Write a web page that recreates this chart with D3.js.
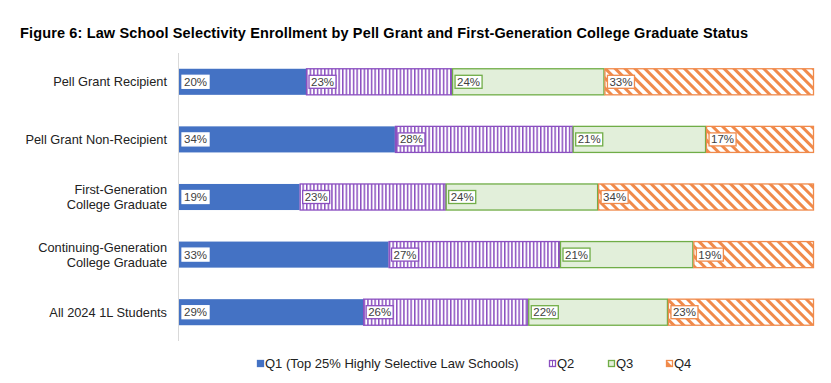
<!DOCTYPE html>
<html><head><meta charset="utf-8">
<script src="https://cdn.jsdelivr.net/npm/d3@7"></script>
<style>body{margin:0;background:#fff;}svg{display:block;font-family:Arial,"Liberation Sans",sans-serif;}</style>
</head><body><svg id="c" width="831" height="383"></svg>
<script>
const categories = ["Pell Grant Recipient","Pell Grant Non-Recipient","First-Generation\nCollege Graduate","Continuing-Generation\nCollege Graduate","All 2024 1L Students"];
const seriesNames = ["Q1 (Top 25% Highly Selective Law Schools)","Q2","Q3","Q4"];
const q1 = [20,34,19,33,29];
const q2 = [23,28,23,27,26];
const q3 = [24,21,24,21,22];
const q4 = [33,17,34,19,23];
const seriesValues = [q1,q2,q3,q4];

const svg = d3.select("#c");
const defs = svg.append("defs");
const p2 = defs.append("pattern").attr("id","p2").attr("patternUnits","userSpaceOnUse").attr("width",3.6).attr("height",4);
p2.append("rect").attr("width",3.6).attr("height",4).attr("fill","#fff");
p2.append("rect").attr("x",0).attr("width",1.5).attr("height",4).attr("fill","#8B4FC0");
const p4 = defs.append("pattern").attr("id","p4").attr("patternUnits","userSpaceOnUse").attr("width",7).attr("height",7).attr("patternTransform","rotate(-45)");
p4.append("rect").attr("width",7).attr("height",7).attr("fill","#fff");
p4.append("rect").attr("x",0).attr("width",3).attr("height",7).attr("fill","#F08A4B");

const fills = ["#4472C4","url(#p2)","#E2EFDA","url(#p4)"];
const strokes = ["#4472C4","#8B4FC0","#70AD47","#F08A4B"];

svg.append("text").attr("x",20).attr("y",38).attr("font-size",14.5).attr("font-weight","bold").attr("fill","#000")
  .attr("textLength",728).attr("lengthAdjust","spacing")
  .text("Figure 6: Law School Selectivity Enrollment by Pell Grant and First-Generation College Graduate Status");

const x = d3.scaleLinear().domain([0,100]).range([179,814]);
const y = d3.scaleBand().domain(categories).range([53,341]).paddingInner(0.53).paddingOuter(0.265);

svg.append("line").attr("x1",178.5).attr("x2",178.5).attr("y1",53).attr("y2",341).attr("stroke","#D9D9D9").attr("stroke-width",1);

categories.forEach((c,i)=>{
  let cum=0;
  seriesValues.forEach((s,j)=>{
    const v=s[i], x0=x(cum), x1=x(cum+v);
    svg.append("rect").attr("x",x0+(j?0.5:0)).attr("y",y(c)+0.5).attr("width",x1-x0-(j?1:0)).attr("height",y.bandwidth()-1)
      .attr("fill",fills[j]).attr("stroke",j?strokes[j]:"none").attr("stroke-width",1.3);
    const g=svg.append("g");
    const t=g.append("text").attr("x",x0+5).attr("y",y(c)+y.bandwidth()/2+4).attr("font-size",11.5).attr("fill","#404040").text(v+"%");
    const bb=t.node().getBBox();
    g.insert("rect","text").attr("x",bb.x-2).attr("y",bb.y-0.5).attr("width",bb.width+4).attr("height",bb.height+1)
      .attr("fill","#fff").attr("stroke",j?strokes[j]:"#fff").attr("stroke-width",1.3);
    cum+=v;
  });
  const lines=c.split("\n");
  const t=svg.append("text").attr("text-anchor","end").attr("font-size",12.8).attr("fill","#222");
  const cy=y(c)+y.bandwidth()/2;
  lines.forEach((l,k)=>{
    t.append("tspan").attr("x",167).attr("y",cy+4.5+(k-(lines.length-1)/2)*15).text(l);
  });
});

// legend
const legX=[257,549,608,666];
seriesNames.forEach((n,j)=>{
  svg.append("rect").attr("x",legX[j]+0.5).attr("y",360.5).attr("width",6).attr("height",6)
    .attr("fill",j===0?"#4472C4":(j===2?"#E2EFDA":"#fff")).attr("stroke",strokes[j]).attr("stroke-width",1.3);
  if(j===1) svg.append("line").attr("x1",legX[j]+3.5).attr("x2",legX[j]+3.5).attr("y1",360.5).attr("y2",366.5).attr("stroke",strokes[j]);
  if(j===3) svg.append("path").attr("d",`M${legX[j]+0.5},${360.5}L${legX[j]+6.5},${366.5}L${legX[j]+0.5},${366.5}Z`).attr("fill",strokes[j]);
  svg.append("text").attr("x",legX[j]+8).attr("y",368).attr("font-size",13).attr("fill","#222").text(n);
});
</script></body></html>
